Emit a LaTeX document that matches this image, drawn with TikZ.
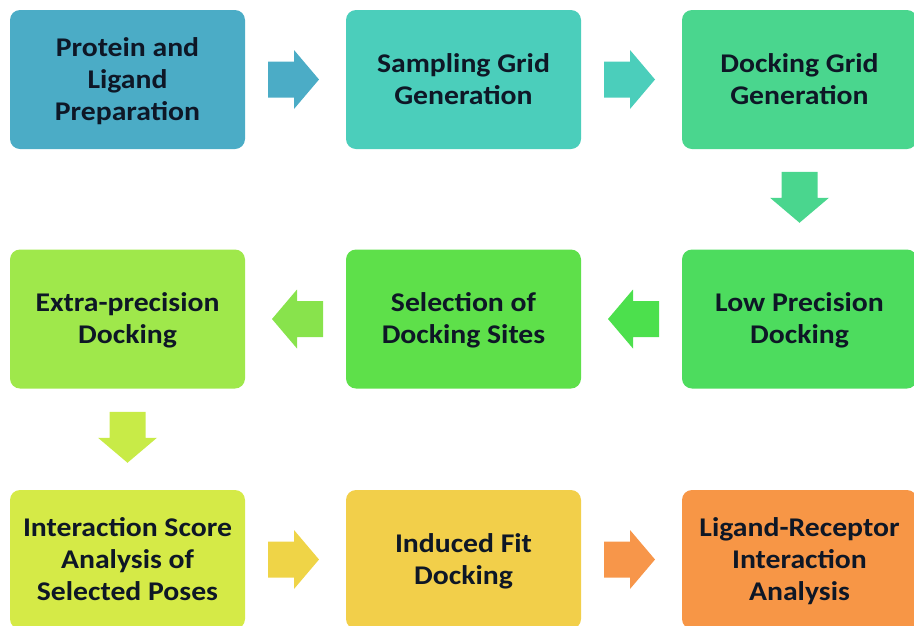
\documentclass[tikz,border=0pt]{standalone}
\usepackage{fontspec}
\setmainfont{Carlito}[FakeStretch=1.1]
\usetikzlibrary{calc}
\definecolor{cA}{HTML}{4BACC6}
\definecolor{cB}{HTML}{4BCEBB}
\definecolor{cC}{HTML}{4AD68E}
\definecolor{cD}{HTML}{4DDC5E}
\definecolor{cE}{HTML}{5EE04A}
\definecolor{cF}{HTML}{9FE84B}
\definecolor{cG}{HTML}{D5EA47}
\definecolor{cH}{HTML}{F2CF4A}
\definecolor{cI}{HTML}{F79646}
\definecolor{aDE}{HTML}{4CE04D}
\definecolor{aEF}{HTML}{88E34C}
\definecolor{aFG}{HTML}{C8EB47}
\definecolor{aGH}{HTML}{EFD447}
\definecolor{aHI}{HTML}{F7964A}
\definecolor{txt}{HTML}{0E1726}
\newcommand\boxtext[1]{\raisebox{-2.5pt}[\height][\depth]{\begin{tabular}{@{}c@{}}#1\end{tabular}}}
\tikzset{
  stepbox/.style={rectangle, rounded corners=10pt, minimum width=235pt, minimum height=139pt,
    inner sep=0pt, text=txt,
    font=\fontsize{27}{32}\selectfont\bfseries},
  barrow/.pic={\fill[pic actions] (-27.5,-18) -- (-1.5,-18) -- (-1.5,-29.5) -- (23.5,0) -- (-1.5,29.5) -- (-1.5,18) -- (-27.5,18) -- cycle;}
}
\begin{document}
\begin{tikzpicture}[x=1pt,y=-1pt]
\useasboundingbox (0,0) rectangle (914,625);
\node[stepbox, fill=cA] (b1) at (127.5,79.5) {\boxtext{Protein and\\Ligand\\Preparation}};
\node[stepbox, fill=cB] (b2) at (463.5,79.5) {\boxtext{Sampling Grid\\Generation}};
\node[stepbox, fill=cC] (b3) at (799.5,79.5) {\boxtext{Docking Grid\\Generation}};
\node[stepbox, fill=cD] (b4) at (799.5,319) {\boxtext{Low Precision\\Docking}};
\node[stepbox, fill=cE] (b5) at (463.5,319) {\boxtext{Selection of\\Docking Sites}};
\node[stepbox, fill=cF] (b6) at (127.5,319) {\boxtext{Extra-precision\\Docking}};
\node[stepbox, fill=cG] (b7) at (127.5,559.5) {\boxtext{Interaction Score\\Analysis of\\Selected Poses}};
\node[stepbox, fill=cH] (b8) at (463.5,559.5) {\boxtext{Induced Fit\\Docking}};
\node[stepbox, fill=cI] (b9) at (799.5,559.5) {\boxtext{Ligand-Receptor\\Interaction\\Analysis}};
\pic[fill=cA] at ($(b1.east)!0.5!(b2.west)$) {barrow};
\pic[fill=cB] at ($(b2.east)!0.5!(b3.west)$) {barrow};
\pic[fill=cC, rotate=-90] at ($(b3.south)!0.5!(b4.north)$) {barrow};
\pic[fill=aDE, rotate=180] at ($(b4.west)!0.5!(b5.east)$) {barrow};
\pic[fill=aEF, rotate=180] at ($(b5.west)!0.5!(b6.east)$) {barrow};
\pic[fill=aFG, rotate=-90] at ($(b6.south)!0.5!(b7.north)$) {barrow};
\pic[fill=aGH] at ($(b7.east)!0.5!(b8.west)$) {barrow};
\pic[fill=aHI] at ($(b8.east)!0.5!(b9.west)$) {barrow};
\end{tikzpicture}
\end{document}
